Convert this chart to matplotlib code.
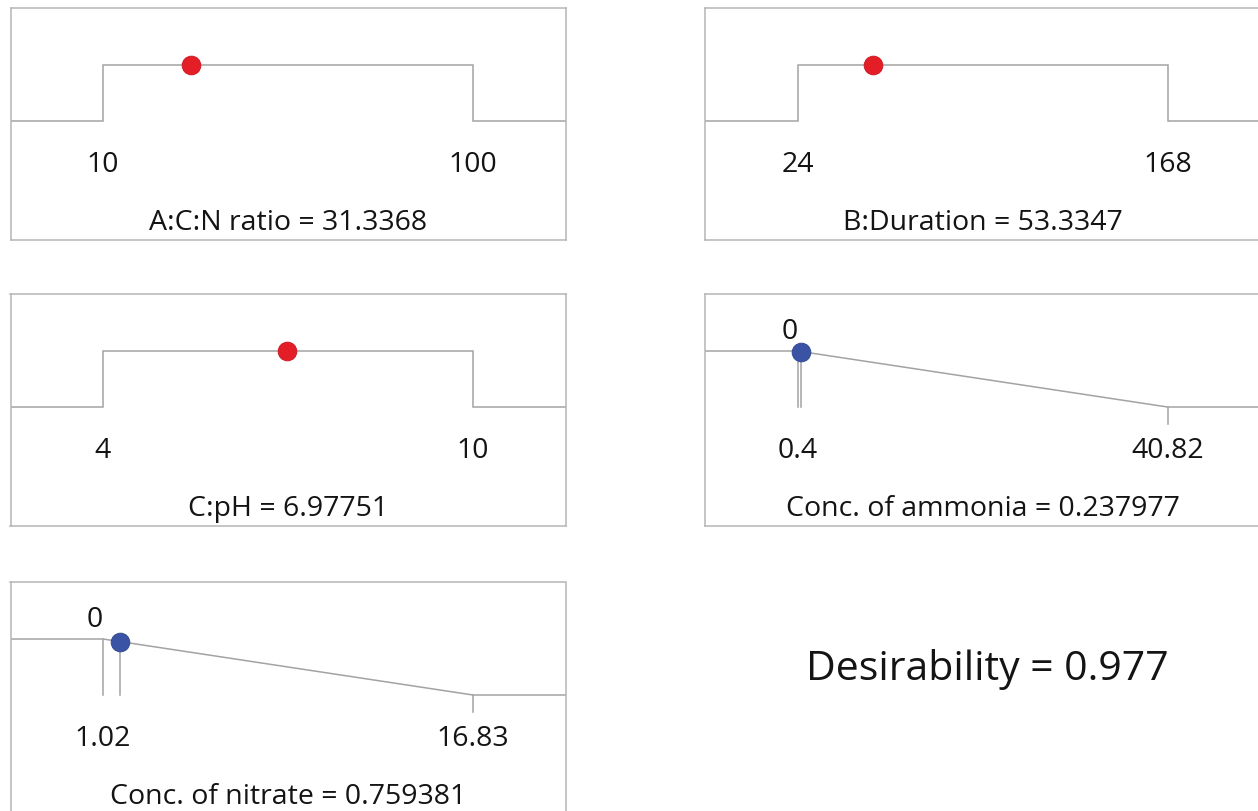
import numpy as np
import matplotlib
matplotlib.use("Agg")
import matplotlib.pyplot as plt

plt.rcParams['font.family'] = ['Open Sans', 'DejaVu Sans']

# ---- data ----
factor_names = ["A:C:N ratio", "B:Duration", "C:pH"]
factor_values = [31.3368, 53.3347, 6.97751]
factor_value_text = ["31.3368", "53.3347", "6.97751"]
factor_lows = [10, 24, 4]
factor_highs = [100, 168, 10]
factor_low_text = ["10", "24", "4"]
factor_high_text = ["100", "168", "10"]

response_names = ["Conc. of ammonia", "Conc. of nitrate"]
response_value_text = ["0.237977", "0.759381"]
response_lows = [0.4, 1.02]
response_highs = [40.82, 16.83]
response_low_text = ["0.4", "1.02"]
response_high_text = ["40.82", "16.83"]
response_dot_x = [0.82, 1.76]   # dot positions
response_zero_text = ["0", "0"]

desirability = 0.977

# ---- layout ----
W, H = 1258, 811
fig = plt.figure(figsize=(W / 100, H / 100), dpi=100)

LINE = "#a3a3a3"
EDGE = "#b5b5b5"
TXT = "#141414"
RED = "#e41e26"
BLUE = "#3a53a4"
FS = 20.5

box_w, box_h = 555, 232
# (left, top) pixel positions of panels
slots = [(10.5, 8), (705, 8), (10.5, 294), (705, 294), (10.5, 582)]

# y data: d=1 at 57 px below top, d=0 at 113 px below top
ppu = 56.0
ymax = 1 + 57 / ppu
ymin = -(box_h - 113) / ppu
y_tick = 1 - (157 - 57) / ppu
y_title = 1 - (222 - 57) / ppu


def make_ax(left, top):
    ax = fig.add_axes([left / W, 1 - (top + box_h) / H, box_w / W, box_h / H])
    ax.set_xticks([])
    ax.set_yticks([])
    for s in ax.spines.values():
        s.set_color(EDGE)
        s.set_linewidth(1.1)
    return ax


def set_x(ax, lo, hi):
    r = hi - lo
    xmin, xmax = lo - 0.25 * r, hi + 0.25 * r
    ax.set_xlim(xmin, xmax)
    ax.set_ylim(ymin, ymax)
    return xmin, xmax


for i in range(3):
    ax = make_ax(*slots[i])
    lo, hi = factor_lows[i], factor_highs[i]
    xmin, xmax = set_x(ax, lo, hi)
    ax.plot([xmin, lo, lo, hi, hi, xmax], [0, 0, 1, 1, 0, 0],
            color=LINE, lw=1.1, solid_joinstyle="miter", zorder=2)
    ax.plot([factor_values[i]], [1], "o", ms=13.5, color=RED,
            mec="#c8161c", mew=0.6, zorder=3)
    ax.text(lo, y_tick, factor_low_text[i], ha="center", va="center",
            fontsize=FS, color=TXT)
    ax.text(hi, y_tick, factor_high_text[i], ha="center", va="center",
            fontsize=FS, color=TXT)
    ax.text((xmin + xmax) / 2, y_title,
            f"{factor_names[i]} = {factor_value_text[i]}",
            ha="center", va="baseline", fontsize=FS, color=TXT)

for j in range(2):
    ax = make_ax(*slots[3 + j])
    lo, hi = response_lows[j], response_highs[j]
    xmin, xmax = set_x(ax, lo, hi)
    xs = [xmin, lo, hi, xmax]
    ys = [1, 1, 0, 0]
    ax.plot(xs, ys, color=LINE, lw=1.1, zorder=2)
    dx = response_dot_x[j]
    dy = float(np.interp(dx, xs, ys))
    ax.plot([lo, lo], [1, 0], color=LINE, lw=1.1, zorder=2)
    ax.plot([dx, dx], [dy, 0], color=LINE, lw=1.1, zorder=2)
    ax.plot([hi, hi], [0, -0.3], color=LINE, lw=1.1, zorder=2)
    ax.plot([dx], [dy], "o", ms=13.5, color=BLUE, mec="#2e4590",
            mew=0.6, zorder=3)
    ax.text(lo, 1.34, response_zero_text[j], ha="right", va="center",
            fontsize=FS, color=TXT)
    ax.text(lo, y_tick, response_low_text[j], ha="center", va="center",
            fontsize=FS, color=TXT)
    ax.text(hi, y_tick, response_high_text[j], ha="center", va="center",
            fontsize=FS, color=TXT)
    ax.text((xmin + xmax) / 2, y_title,
            f"{response_names[j]} = {response_value_text[j]}",
            ha="center", va="baseline", fontsize=FS, color=TXT)

fig.text(987 / W, 1 - 670 / H, f"Desirability = {desirability:.3f}",
         ha="center", va="center", fontsize=29.5, color=TXT)

fig.savefig("out.png", dpi=100, facecolor="white")
